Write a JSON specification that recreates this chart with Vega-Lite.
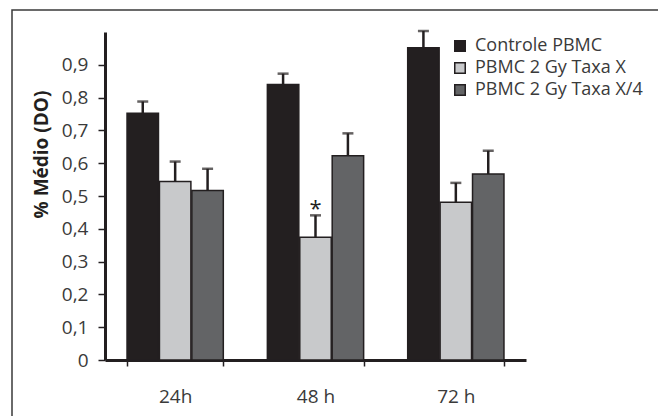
{
  "$schema": "https://vega.github.io/schema/vega-lite/v6.json",
  "width": 650,
  "height": 410,
  "autosize": {"type": "none"},
  "padding": {"left": 12, "top": 10, "right": -4, "bottom": -4},
  "config": {
    "font": "Open Sans",
    "view": {"stroke": "#3a3a3a", "strokeWidth": 1.5},
    "axis": {"grid": false}
  },
  "data": {
    "values": [
      {"time": "24h", "group": "Controle PBMC", "value": 0.752, "upper": 0.788, "sig": ""},
      {"time": "24h", "group": "PBMC 2 Gy Taxa X", "value": 0.544, "upper": 0.605, "sig": ""},
      {"time": "24h", "group": "PBMC 2 Gy Taxa X/4", "value": 0.517, "upper": 0.583, "sig": ""},
      {"time": "48 h", "group": "Controle PBMC", "value": 0.840, "upper": 0.873, "sig": ""},
      {"time": "48 h", "group": "PBMC 2 Gy Taxa X", "value": 0.374, "upper": 0.441, "sig": "*"},
      {"time": "48 h", "group": "PBMC 2 Gy Taxa X/4", "value": 0.623, "upper": 0.691, "sig": ""},
      {"time": "72 h", "group": "Controle PBMC", "value": 0.952, "upper": 1.003, "sig": ""},
      {"time": "72 h", "group": "PBMC 2 Gy Taxa X", "value": 0.481, "upper": 0.540, "sig": ""},
      {"time": "72 h", "group": "PBMC 2 Gy Taxa X/4", "value": 0.567, "upper": 0.638, "sig": ""}
    ]
  },
  "encoding": {
    "x": {
      "field": "time", "type": "nominal", "sort": null,
      "scale": {"range": [93, 514], "paddingInner": 0.314, "paddingOuter": 0.157},
      "axis": {
        "title": null, "labelAngle": 0, "offset": -60,
        "domainWidth": 3, "domainColor": "#231f20",
        "tickBand": "extent", "tickSize": 6, "tickWidth": 1.5, "tickColor": "#231f20",
        "labelFontSize": 19, "labelColor": "#3a3a3a", "labelPadding": 21, "labelDx": -12
      }
    },
    "xOffset": {
      "field": "group", "type": "nominal", "sort": null,
      "scale": {"paddingInner": 0.03}
    },
    "y": {
      "field": "value", "type": "quantitative",
      "scale": {"domain": [0, 1], "range": [350, 22], "nice": false},
      "axis": {
        "title": "% Médio (DO)", "offset": -93,
        "values": [0, 0.1, 0.2, 0.3, 0.4, 0.5, 0.6, 0.7, 0.8, 0.9],
        "labelExpr": "datum.value == 0 ? '0' : replace(format(datum.value, '.1f'), '.', ',')",
        "domainWidth": 3, "domainColor": "#231f20",
        "tickSize": 7, "tickWidth": 1.5, "tickColor": "#231f20",
        "labelFontSize": 19, "labelColor": "#3a3a3a", "labelPadding": 10,
        "titleFontSize": 19, "titleFontWeight": "bold", "titleColor": "#231f20", "titlePadding": 10,
        "titleY": 144
      }
    }
  },
  "layer": [
    {
      "mark": {"type": "bar", "stroke": "#231f20", "strokeWidth": 1.5},
      "encoding": {
        "color": {
          "field": "group", "type": "nominal", "sort": null,
          "scale": {
            "domain": ["Controle PBMC", "PBMC 2 Gy Taxa X", "PBMC 2 Gy Taxa X/4"],
            "range": ["#231f20", "#c8c9cb", "#636466"]
          },
          "legend": {
            "title": null, "orient": "none", "legendX": 439, "legendY": 27,
            "symbolType": "square", "symbolSize": 110,
            "symbolStrokeColor": "#231f20", "symbolStrokeWidth": 1.5,
            "labelFontSize": 18, "labelColor": "#3a3a3a", "labelOffset": 6,
            "rowPadding": 4, "labelLimit": 300
          }
        }
      }
    },
    {
      "mark": {"type": "rule", "color": "#231f20", "strokeWidth": 2.5},
      "encoding": {"y2": {"field": "upper"}}
    },
    {
      "mark": {"type": "tick", "color": "#231f20", "thickness": 2.5, "size": 11},
      "encoding": {"y": {"field": "upper", "type": "quantitative"}}
    },
    {
      "mark": {"type": "text", "fontSize": 22, "color": "#231f20", "baseline": "bottom", "dy": 6},
      "encoding": {
        "y": {"field": "upper", "type": "quantitative"},
        "text": {"field": "sig"}
      }
    }
  ]
}
